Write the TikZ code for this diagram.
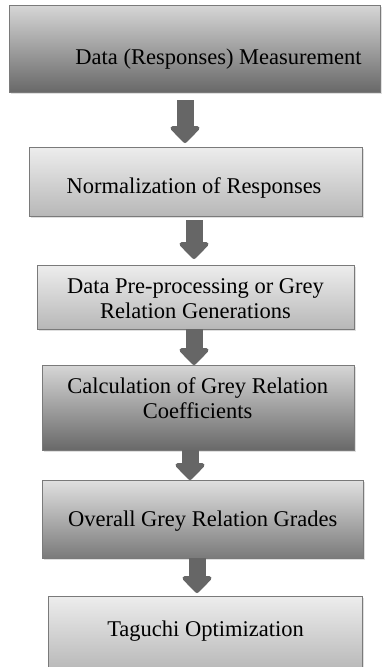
\documentclass[tikz,border=0pt]{standalone}
\usepackage{fontspec}
\setmainfont{Liberation Serif}
\usetikzlibrary{arrows.meta,shadows}
\definecolor{edgegrey}{HTML}{7A7A7A}
\definecolor{arrowgrey}{HTML}{666666}
\tikzset{
  box/.style={rectangle, draw=edgegrey, line width=0.8pt, inner sep=0pt, outer sep=0pt,
    drop shadow={opacity=0.25, shadow xshift=1.5pt, shadow yshift=-2pt}},
  lightbox/.style={box, top color=white!93!black, bottom color=white!72!black},
  darkbox/.style={box, top color=white!84!black, bottom color=white!41!black},
  midbox/.style={box, top color=white!88!black, bottom color=white!48!black},
  label/.style={font=\fontsize{22.5}{25}\selectfont, inner sep=0pt, align=center, anchor=base},
  flow/.style={draw=arrowgrey, line width=17pt,
    -{Triangle[width=34pt, length=18pt, round=false]}, arrowgrey}
}
\begin{document}
\begin{tikzpicture}[x=1pt, y=-1pt]
  \clip (0,0) rectangle (384,667);
  \fill[white] (0,0) rectangle (384,667);

  % process boxes
  \node[darkbox,  minimum width=371pt, minimum height=87pt] (b1) at (194.5,48.5) {};
  \node[lightbox, minimum width=333pt, minimum height=69pt] (b2) at (195.5,181.5) {};
  \node[lightbox, minimum width=317pt, minimum height=64pt] (b3) at (195.5,297) {};
  \node[darkbox,  minimum width=312pt, minimum height=85pt] (b4) at (198,407.5) {};
  \node[midbox,   minimum width=321pt, minimum height=78pt] (b5) at (202.5,519) {};
  \node[lightbox, minimum width=314pt, minimum height=75pt] (b6) at (205,633.5) {};

  % block arrows between the steps
  \draw[flow, shorten <=8pt, shorten >=4pt] ([xshift=-9.5pt]b1.south) -- ([xshift=-10.5pt]b2.north);
  \draw[flow, shorten <=4pt, shorten >=6pt] ([xshift=-1.5pt]b2.south) -- ([xshift=-1.5pt]b3.north);
  \draw[flow] ([xshift=-1.5pt]b3.south) -- ([xshift=-4pt]b4.north);
  \draw[flow] ([xshift=-8pt]b4.south) -- ([xshift=-12.5pt]b5.north);
  \draw[flow, shorten >=3pt] ([xshift=-5.5pt]b5.south) -- ([xshift=-8pt]b6.north);

  % box texts (two-line texts are anchored on their last baseline)
  \node[label] (t1) at (218.5,64) {Data (Responses) Measurement};
  \node[label] (t2) at (194,193) {Normalization of Responses};
  \node[label] (t3) at (195.5,318) {Data Pre-processing or Grey\\Relation Generations};
  \node[label] (t4) at (197.7,418) {Calculation of Grey Relation\\Coefficients};
  \node[label] (t5) at (202.7,526) {Overall Grey Relation Grades};
  \node[label] (t6) at (205.5,636) {Taguchi Optimization};
\end{tikzpicture}
\end{document}
